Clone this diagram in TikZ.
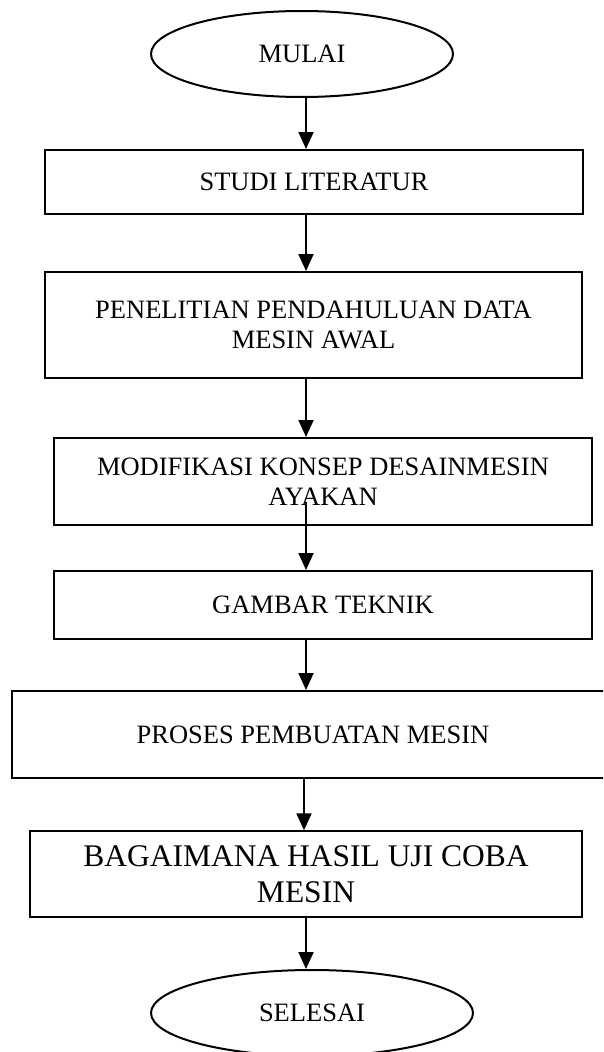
\documentclass[tikz,border=0pt]{standalone}
\usepackage{fontspec}
\setmainfont{Liberation Serif}
\usetikzlibrary{shapes.geometric,arrows.meta}
\begin{document}
\begin{tikzpicture}[x=1pt,y=-1pt,
  txt/.style={font=\fontsize{26.5}{30.5}\selectfont, align=center},
  bigtxt/.style={font=\fontsize{31.5}{36}\selectfont, align=center},
  procbox/.style={draw=black, line width=2pt, rectangle, inner sep=0pt},
  term/.style={draw=black, line width=2pt, ellipse, inner sep=0pt},
  arr/.style={line width=2pt, -{Triangle[length=17pt,width=15pt]}}
]
\clip (0,0) rectangle (603,1052);
\fill[white] (0,0) rectangle (603,1052);
\coordinate (ax) at (306,0);
\coordinate (ax2) at (304,0);

\node[term, txt, minimum width=302pt, minimum height=86pt] (start) at (302,54) {MULAI};
\node[procbox, txt, minimum width=538pt, minimum height=64pt] (studi) at (314,182) {STUDI LITERATUR};
\node[procbox, txt, minimum width=537pt, minimum height=106pt] (pen) at (313.5,325) {PENELITIAN PENDAHULUAN DATA\\MESIN AWAL};
\node[procbox, txt, minimum width=538pt, minimum height=87pt] (mod) at (323,481.5) {MODIFIKASI KONSEP DESAINMESIN\\AYAKAN};
\coordinate (modout) at (306,502);
\node[procbox, txt, minimum width=538pt, minimum height=68pt] (gam) at (323,605) {GAMBAR TEKNIK};
\node[procbox, txt, minimum width=602pt, minimum height=87pt] (pro) at (313,734.5) {PROSES PEMBUATAN MESIN};
\node[procbox, bigtxt, line width=1.4pt, minimum width=552pt, minimum height=86pt] (bag) at (306,874) {BAGAIMANA HASIL UJI COBA\\MESIN};
\node[term, txt, minimum width=322pt, minimum height=86pt] (end) at (312,1013) {SELESAI};

\draw[arr] (start.south -| ax) -- (studi.north -| ax);
\draw[arr] (studi.south -| ax) -- (pen.north -| ax);
\draw[arr] (pen.south -| ax) -- (mod.north -| ax);
\draw[arr] (modout) -- (gam.north -| ax);
\draw[arr] (gam.south -| ax) -- (pro.north -| ax);
\draw[arr] (pro.south -| ax2) -- (bag.north -| ax2);
\draw[arr] (bag.south -| ax) -- (end.north -| ax);
\end{tikzpicture}
\end{document}
